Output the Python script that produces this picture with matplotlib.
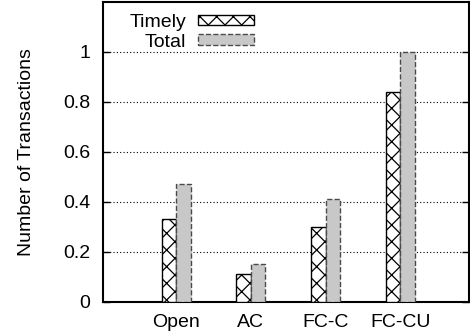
import numpy as np
import matplotlib
matplotlib.use('Agg')
import matplotlib.pyplot as plt

plt.rcParams['font.family'] = ['Liberation Sans', 'DejaVu Sans']
plt.rcParams['hatch.linewidth'] = 0.9

categories = ['Open', 'AC', 'FC-C', 'FC-CU']
timely = [0.33, 0.11, 0.30, 0.84]
total = [0.47, 0.15, 0.41, 1.00]

X = np.arange(len(categories))
w = 0.195

fig = plt.figure(figsize=(4.7, 3.32), dpi=100)
ax = fig.add_axes([0.219, 0.0904, 0.779, 0.9036])

ax.bar(X - w/2, timely, w, color='white', edgecolor='black', hatch='xx',
       linewidth=1.0, label='Timely', zorder=3)
ax.bar(X + w/2, total, w, color='#c8c8c8', edgecolor='#4a4a4a', linestyle='--',
       linewidth=1.0, label='Total', zorder=3)

# 坐标轴范围
ax.set_xlim(-0.98, 3.92)
ax.set_ylim(0, 1.2)

ax.set_xticks(X)
ax.set_xticklabels(categories, fontsize=14)
ax.set_yticks([0, 0.2, 0.4, 0.6, 0.8, 1])
ax.set_yticklabels(['0', '0.2', '0.4', '0.6', '0.8', '1'], fontsize=14)
ax.tick_params(axis='x', length=0, pad=9)
ax.tick_params(axis='y', direction='in', length=5, width=1, right=True, pad=9)

for s in ax.spines.values():
    s.set_linewidth(1.5)

ax.grid(axis='y', linestyle=(0, (1, 2)), color='black', linewidth=0.8, zorder=1)

ax.set_ylabel('Number of Transactions', fontsize=14, labelpad=20)

ax.legend(loc='upper left', fontsize=14, frameon=False, markerfirst=False,
          handlelength=2.9, handleheight=0.45, handletextpad=0.6,
          labelspacing=0.15, bbox_to_anchor=(0.04, 1.0), borderaxespad=0.2)

fig.savefig('out.png', dpi=100)
